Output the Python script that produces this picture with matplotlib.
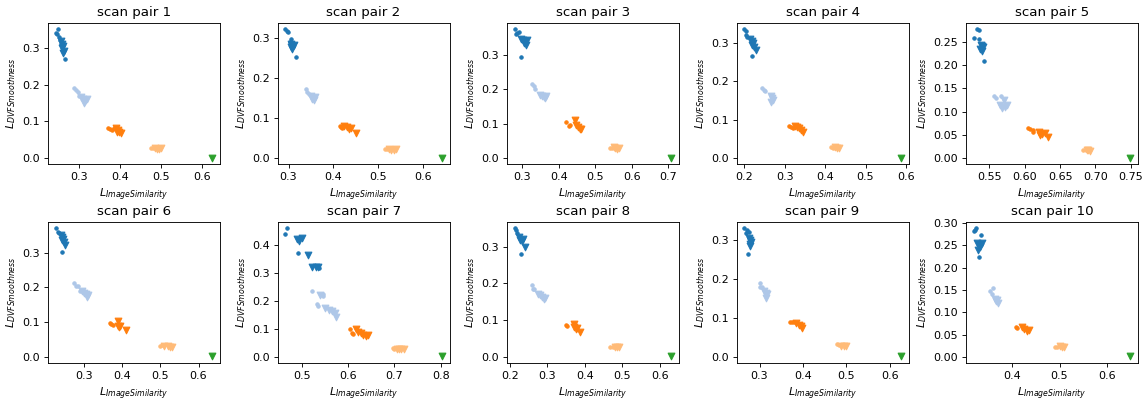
import matplotlib.pyplot as plt
from matplotlib.ticker import MaxNLocator

titles = [f"scan pair {i}" for i in range(1, 11)]

# one list of (x, y) points per scan pair
dark_blue_dots = [
    [(0.243, 0.34), (0.247, 0.35), (0.245, 0.337), (0.250, 0.328), (0.252, 0.32), (0.265, 0.27), (0.255, 0.31)],
    [(0.293, 0.322), (0.296, 0.318), (0.298, 0.316), (0.305, 0.298), (0.316, 0.252), (0.303, 0.29)],
    [(0.28, 0.375), (0.285, 0.365), (0.283, 0.36), (0.29, 0.368), (0.297, 0.295)],
    [(0.2, 0.335), (0.203, 0.33), (0.205, 0.32), (0.207, 0.315), (0.218, 0.265)],
    [(0.533, 0.277), (0.535, 0.276), (0.528, 0.258), (0.535, 0.257), (0.542, 0.208)],
    [(0.227, 0.37), (0.232, 0.36), (0.235, 0.355), (0.244, 0.302)],
    [(0.465, 0.438), (0.468, 0.46), (0.493, 0.373), (0.538, 0.318)],
    [(0.213, 0.35), (0.217, 0.345), (0.22, 0.338), (0.23, 0.28)],
    [(0.265, 0.33), (0.27, 0.325), (0.268, 0.318), (0.275, 0.32), (0.273, 0.265)],
    [(0.318, 0.282), (0.322, 0.288), (0.32, 0.285), (0.333, 0.272), (0.33, 0.223)],
]
dark_blue_tri = [
    [(0.255, 0.318), (0.258, 0.31), (0.26, 0.305), (0.257, 0.298), (0.262, 0.29), (0.26, 0.285)],
    [(0.305, 0.285), (0.31, 0.28), (0.313, 0.282), (0.308, 0.272), (0.306, 0.278)],
    [(0.298, 0.348), (0.303, 0.345), (0.308, 0.34), (0.305, 0.335), (0.31, 0.328), (0.312, 0.345)],
    [(0.215, 0.31), (0.22, 0.305), (0.222, 0.3), (0.218, 0.295), (0.225, 0.29), (0.228, 0.282)],
    [(0.538, 0.243), (0.54, 0.24), (0.537, 0.235), (0.539, 0.23), (0.541, 0.238)],
    [(0.24, 0.35), (0.243, 0.345), (0.245, 0.34), (0.242, 0.335), (0.25, 0.322), (0.247, 0.33)],
    [(0.49, 0.42), (0.495, 0.415), (0.5, 0.425), (0.513, 0.365), (0.522, 0.32), (0.53, 0.322), (0.535, 0.32)],
    [(0.225, 0.325), (0.228, 0.318), (0.232, 0.315), (0.235, 0.32), (0.24, 0.3)],
    [(0.275, 0.305), (0.278, 0.3), (0.28, 0.295), (0.277, 0.29), (0.279, 0.285)],
    [(0.325, 0.255), (0.33, 0.25), (0.332, 0.245), (0.328, 0.24), (0.335, 0.255)],
]
light_blue_dots = [
    [(0.288, 0.19), (0.292, 0.185), (0.296, 0.18), (0.30, 0.17)],
    [(0.338, 0.172), (0.342, 0.165), (0.345, 0.16)],
    [(0.328, 0.215), (0.332, 0.21), (0.335, 0.2)],
    [(0.243, 0.183), (0.248, 0.178), (0.252, 0.175)],
    [(0.557, 0.133), (0.56, 0.13), (0.567, 0.133)],
    [(0.275, 0.213), (0.28, 0.205), (0.285, 0.205), (0.29, 0.19)],
    [(0.522, 0.237), (0.533, 0.19), (0.535, 0.182), (0.545, 0.225), (0.546, 0.217)],
    [(0.258, 0.195), (0.262, 0.185), (0.265, 0.185)],
    [(0.3, 0.19), (0.302, 0.18), (0.305, 0.178)],
    [(0.352, 0.148), (0.358, 0.155), (0.357, 0.14)],
]
light_blue_tri = [
    [(0.305, 0.165), (0.31, 0.16), (0.315, 0.155), (0.318, 0.16), (0.312, 0.15)],
    [(0.35, 0.155), (0.355, 0.15), (0.36, 0.153), (0.358, 0.145), (0.352, 0.148)],
    [(0.348, 0.183), (0.355, 0.18), (0.36, 0.178), (0.365, 0.18), (0.362, 0.175)],
    [(0.265, 0.16), (0.268, 0.155), (0.27, 0.15), (0.267, 0.145)],
    [(0.565, 0.115), (0.57, 0.125), (0.572, 0.11), (0.568, 0.108), (0.575, 0.115)],
    [(0.295, 0.19), (0.3, 0.185), (0.305, 0.18), (0.31, 0.177), (0.307, 0.172)],
    [(0.54, 0.222), (0.55, 0.175), (0.558, 0.168), (0.565, 0.165), (0.572, 0.158), (0.575, 0.143)],
    [(0.275, 0.17), (0.28, 0.168), (0.285, 0.162), (0.29, 0.158), (0.293, 0.16)],
    [(0.31, 0.17), (0.315, 0.165), (0.318, 0.16), (0.316, 0.152)],
    [(0.362, 0.13), (0.365, 0.125), (0.368, 0.128), (0.37, 0.12)],
]
orange_dots = [
    [(0.37, 0.083), (0.375, 0.08), (0.38, 0.078), (0.385, 0.082)],
    [(0.415, 0.08), (0.418, 0.078), (0.42, 0.076)],
    [(0.42, 0.104), (0.427, 0.093), (0.43, 0.095)],
    [(0.31, 0.082), (0.315, 0.08), (0.32, 0.078)],
    [(0.605, 0.065), (0.608, 0.062), (0.612, 0.06), (0.611, 0.055)],
    [(0.368, 0.098), (0.37, 0.095), (0.375, 0.093)],
    [(0.605, 0.1), (0.608, 0.085), (0.61, 0.082)],
    [(0.35, 0.088), (0.353, 0.083)],
    [(0.37, 0.09), (0.375, 0.089), (0.38, 0.09)],
    [(0.407, 0.068), (0.41, 0.065)],
]
orange_tri = [
    [(0.39, 0.083), (0.395, 0.078), (0.398, 0.072), (0.402, 0.068), (0.392, 0.07)],
    [(0.425, 0.08), (0.43, 0.078), (0.435, 0.072), (0.44, 0.075), (0.45, 0.063)],
    [(0.445, 0.11), (0.448, 0.095), (0.452, 0.09), (0.458, 0.085), (0.462, 0.083)],
    [(0.325, 0.082), (0.33, 0.08), (0.335, 0.078), (0.34, 0.072), (0.345, 0.068)],
    [(0.62, 0.055), (0.625, 0.052), (0.628, 0.053), (0.633, 0.045), (0.622, 0.05)],
    [(0.39, 0.102), (0.388, 0.09), (0.392, 0.085), (0.41, 0.078), (0.395, 0.088)],
    [(0.618, 0.1), (0.622, 0.09), (0.628, 0.085), (0.632, 0.08), (0.638, 0.075), (0.642, 0.078)],
    [(0.37, 0.09), (0.372, 0.08), (0.376, 0.075), (0.38, 0.078), (0.388, 0.068)],
    [(0.385, 0.088), (0.39, 0.082), (0.395, 0.078), (0.398, 0.075)],
    [(0.42, 0.068), (0.425, 0.062), (0.43, 0.058), (0.435, 0.06)],
]
light_orange_dots = [
    [(0.475, 0.028), (0.48, 0.029)],
    [(0.515, 0.023), (0.52, 0.024)],
    [(0.54, 0.028), (0.545, 0.03)],
    [(0.415, 0.028), (0.42, 0.027)],
    [(0.683, 0.018), (0.686, 0.018)],
    [(0.5, 0.032), (0.505, 0.033)],
    [(0.697, 0.032), (0.7, 0.03)],
    [(0.468, 0.028), (0.475, 0.028)],
    [(0.478, 0.032), (0.482, 0.03)],
    [(0.49, 0.023), (0.495, 0.022)],
]
light_orange_tri = [
    [(0.485, 0.028), (0.49, 0.026), (0.495, 0.025), (0.5, 0.027)],
    [(0.525, 0.023), (0.53, 0.022), (0.535, 0.022), (0.54, 0.023)],
    [(0.55, 0.032), (0.555, 0.028), (0.56, 0.026), (0.565, 0.029)],
    [(0.425, 0.028), (0.43, 0.026), (0.435, 0.027)],
    [(0.688, 0.017), (0.692, 0.016), (0.69, 0.018)],
    [(0.51, 0.032), (0.52, 0.03), (0.53, 0.028), (0.525, 0.029)],
    [(0.705, 0.03), (0.71, 0.028), (0.715, 0.03), (0.72, 0.027)],
    [(0.48, 0.028), (0.485, 0.026), (0.49, 0.027)],
    [(0.488, 0.028), (0.495, 0.027), (0.5, 0.028)],
    [(0.5, 0.024), (0.505, 0.022), (0.51, 0.023)],
]
green_tri = [
    [(0.625, 0.002)], [(0.643, 0.002)], [(0.708, 0.001)], [(0.587, 0.001)], [(0.749, 0.001)],
    [(0.636, 0.001)], [(0.802, 0.002)], [(0.63, 0.001)], [(0.625, 0.001)], [(0.65, 0.001)],
]

groups = [
    (dark_blue_dots, ".", "#1f77b4"),
    (dark_blue_tri, "v", "#1f77b4"),
    (light_blue_dots, ".", "#aec7e8"),
    (light_blue_tri, "v", "#aec7e8"),
    (orange_dots, ".", "#ff7f0e"),
    (orange_tri, "v", "#ff7f0e"),
    (light_orange_dots, ".", "#ffbb78"),
    (light_orange_tri, "v", "#ffbb78"),
    (green_tri, "v", "#2ca02c"),
]

# drawn bigger at a lower dpi, so text and marks come out smaller
fig, axes = plt.subplots(2, 5, figsize=(14.325, 5.0125), dpi=80)
for i, ax in enumerate(axes.flat):
    for data, marker, color in groups:
        xs = [p[0] for p in data[i]]
        ys = [p[1] for p in data[i]]
        ax.scatter(xs, ys, marker=marker, color=color)
    ax.yaxis.set_major_locator(MaxNLocator(nbins=7, steps=[1, 2, 2.5, 5, 10]))
    ax.set_title(titles[i])
    ax.set_xlabel("$L_{ImageSimilarity}$")
    ax.set_ylabel("$L_{DVFSmoothness}$")

plt.subplots_adjust(left=0.042, right=0.993, top=0.943, bottom=0.095, wspace=0.334, hspace=0.41)
plt.savefig("out.png", dpi=80)
plt.close()
